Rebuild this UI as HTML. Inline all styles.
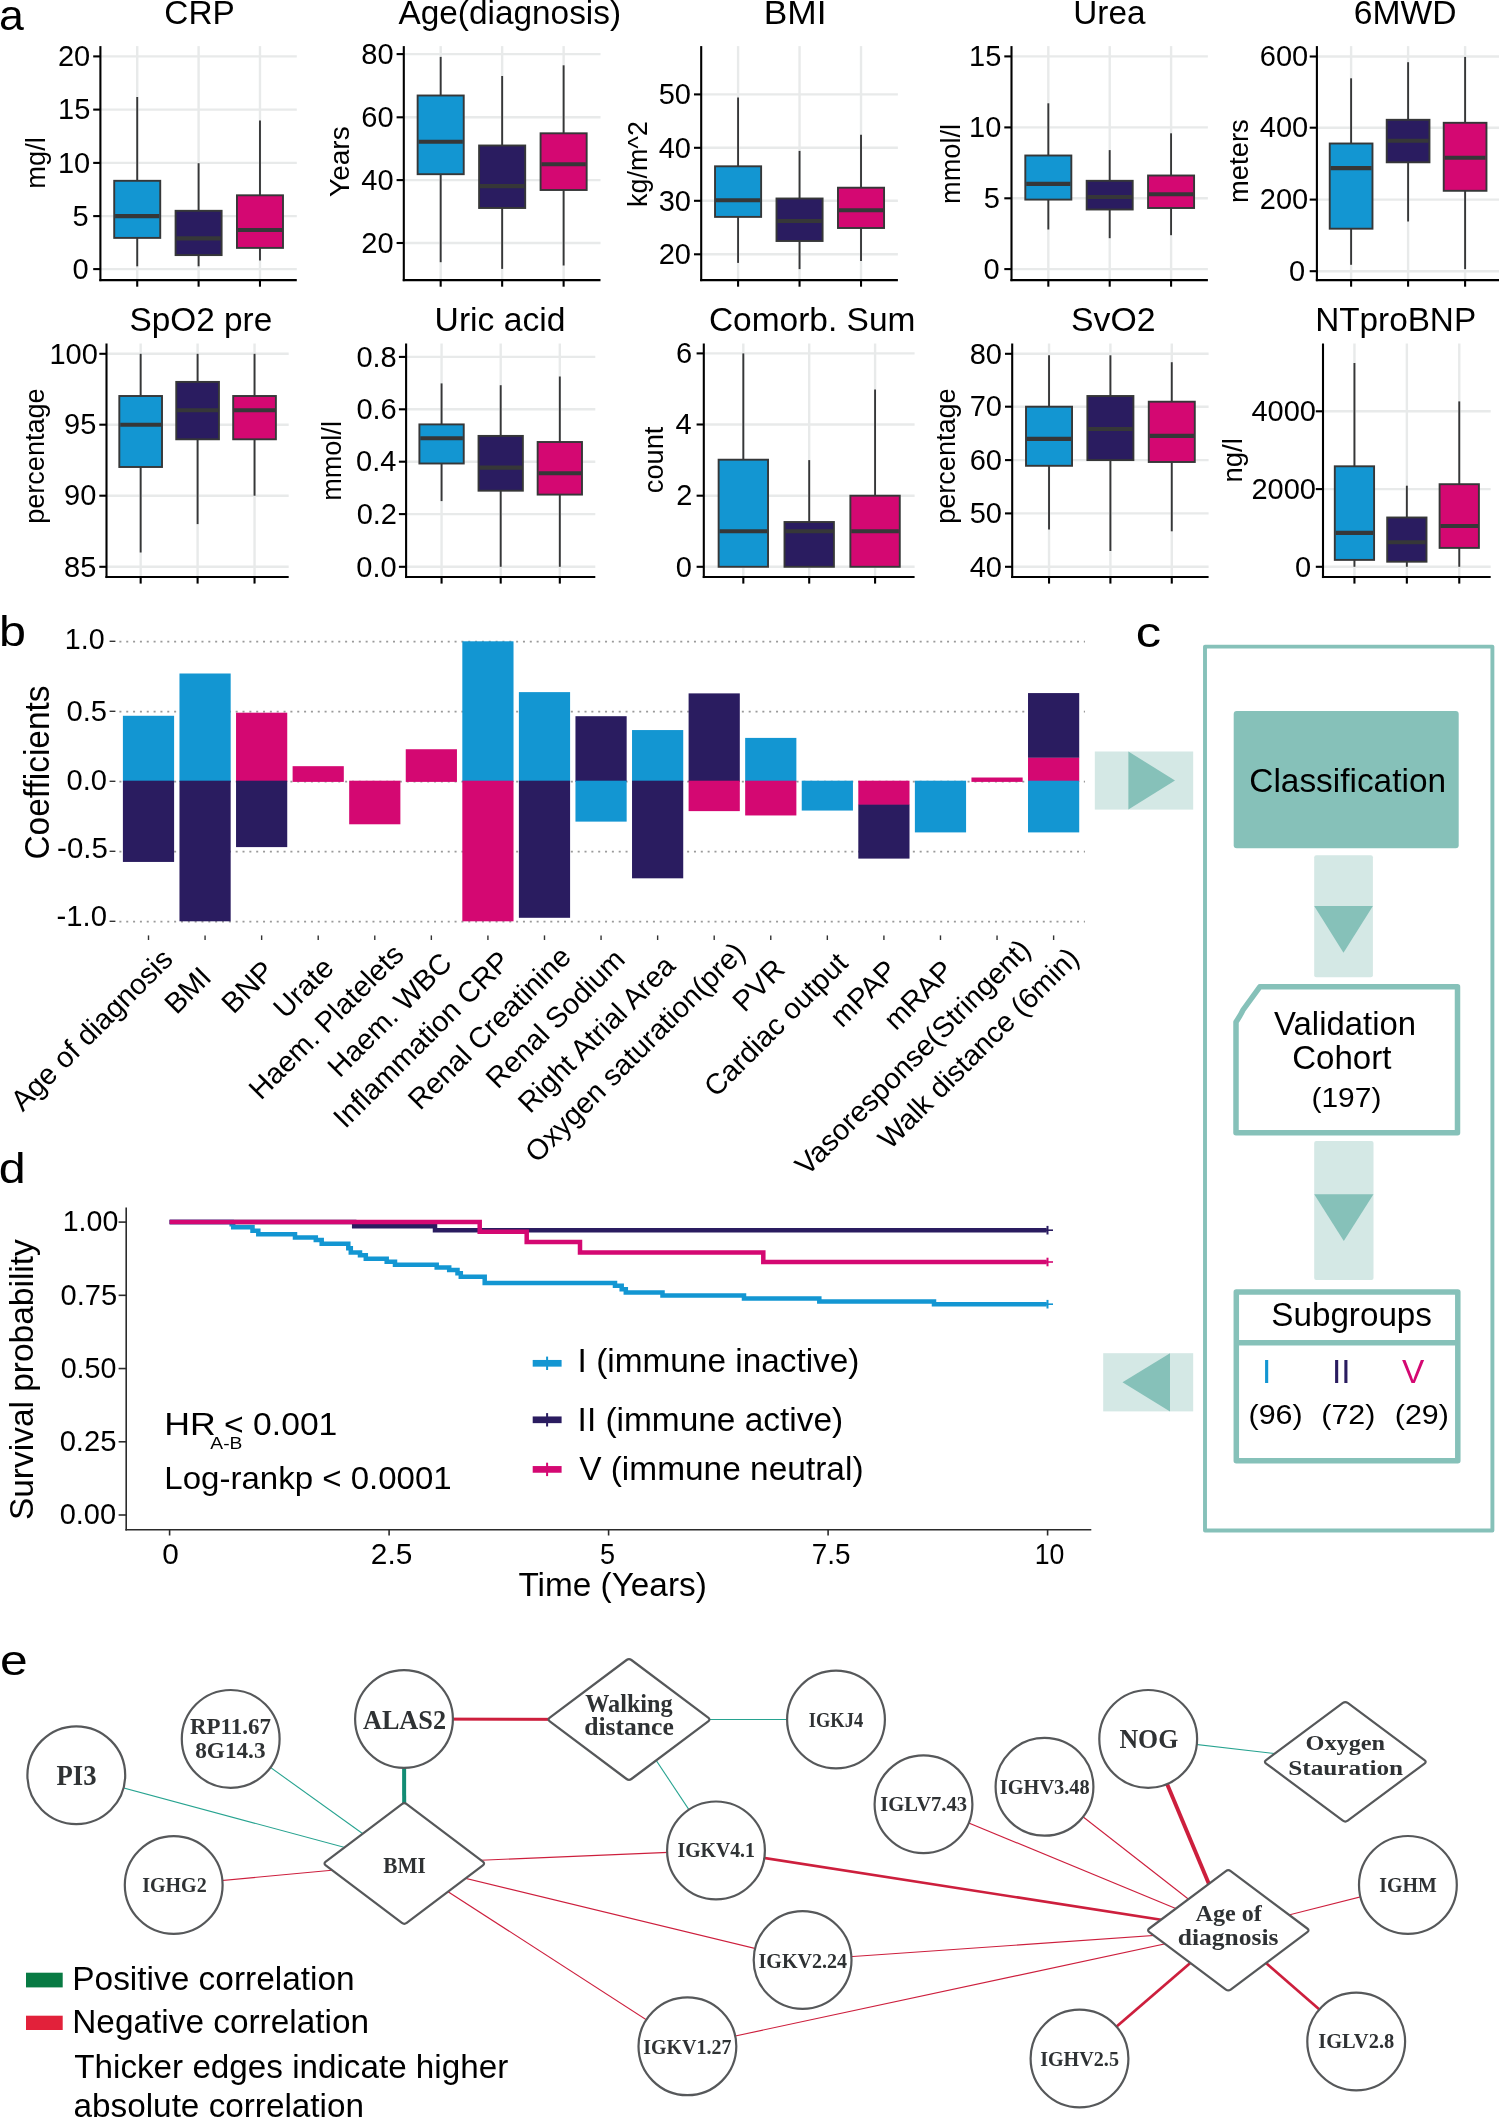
<!DOCTYPE html>
<html><head><meta charset="utf-8"><title>Figure</title>
<style>
html,body{margin:0;padding:0;background:#fff;}
body{width:1499px;height:2119px;overflow:hidden;}
svg{display:block;font-family:'Liberation Sans', sans-serif;will-change:transform;}
</style></head>
<body>
<svg width="1499" height="2119" viewBox="0 0 1499 2119">
<rect x="0" y="0" width="1499" height="2119" fill="#fff"/>
<g id="panel-a">
<line x1="100.4" y1="56.4" x2="296.8" y2="56.4" stroke="#e8eaea" stroke-width="2.4" />
<line x1="100.4" y1="109.6" x2="296.8" y2="109.6" stroke="#e8eaea" stroke-width="2.4" />
<line x1="100.4" y1="162.9" x2="296.8" y2="162.9" stroke="#e8eaea" stroke-width="2.4" />
<line x1="100.4" y1="216.1" x2="296.8" y2="216.1" stroke="#e8eaea" stroke-width="2.4" />
<line x1="100.4" y1="269.1" x2="296.8" y2="269.1" stroke="#e8eaea" stroke-width="2.4" />
<line x1="137.22" y1="46.1" x2="137.22" y2="280.1" stroke="#e8eaea" stroke-width="2.4" />
<line x1="198.6" y1="46.1" x2="198.6" y2="280.1" stroke="#e8eaea" stroke-width="2.4" />
<line x1="259.98" y1="46.1" x2="259.98" y2="280.1" stroke="#e8eaea" stroke-width="2.4" />
<line x1="137.22" y1="97" x2="137.22" y2="180.8" stroke="#363738" stroke-width="1.9" />
<line x1="137.22" y1="237.9" x2="137.22" y2="266.3" stroke="#363738" stroke-width="1.9" />
<rect x="114.21" y="180.8" width="46.03" height="57.1" fill="#1396d2" stroke="#363738" stroke-width="1.9"/>
<line x1="115.11" y1="216.1" x2="159.34" y2="216.1" stroke="#363738" stroke-width="4.1" />
<line x1="198.6" y1="163.2" x2="198.6" y2="210.8" stroke="#363738" stroke-width="1.9" />
<line x1="198.6" y1="255.1" x2="198.6" y2="266.3" stroke="#363738" stroke-width="1.9" />
<rect x="175.58" y="210.8" width="46.03" height="44.3" fill="#2a1c60" stroke="#363738" stroke-width="1.9"/>
<line x1="176.48" y1="238.4" x2="220.72" y2="238.4" stroke="#363738" stroke-width="4.1" />
<line x1="259.98" y1="120.5" x2="259.98" y2="195.3" stroke="#363738" stroke-width="1.9" />
<line x1="259.98" y1="247.9" x2="259.98" y2="260.5" stroke="#363738" stroke-width="1.9" />
<rect x="236.96" y="195.3" width="46.03" height="52.6" fill="#d40872" stroke="#363738" stroke-width="1.9"/>
<line x1="237.86" y1="230" x2="282.09" y2="230" stroke="#363738" stroke-width="4.1" />
<line x1="100.4" y1="46.1" x2="100.4" y2="281.15" stroke="#000" stroke-width="2.1" />
<line x1="99.35" y1="280.1" x2="296.8" y2="280.1" stroke="#000" stroke-width="2.1" />
<line x1="93.2" y1="56.4" x2="100.4" y2="56.4" stroke="#000" stroke-width="2.1" />
<text x="57.93" y="66.1" font-size="29" fill="#000">20</text>
<line x1="93.2" y1="109.6" x2="100.4" y2="109.6" stroke="#000" stroke-width="2.1" />
<text x="58" y="119.3" font-size="29" fill="#000">15</text>
<line x1="93.2" y1="162.9" x2="100.4" y2="162.9" stroke="#000" stroke-width="2.1" />
<text x="57.93" y="172.6" font-size="29" fill="#000">10</text>
<line x1="93.2" y1="216.1" x2="100.4" y2="216.1" stroke="#000" stroke-width="2.1" />
<text x="72.53" y="225.8" font-size="29" fill="#000">5</text>
<line x1="93.2" y1="269.1" x2="100.4" y2="269.1" stroke="#000" stroke-width="2.1" />
<text x="72.46" y="278.8" font-size="29" fill="#000">0</text>
<line x1="137.22" y1="280.1" x2="137.22" y2="286.7" stroke="#000" stroke-width="2.1" />
<line x1="198.6" y1="280.1" x2="198.6" y2="286.7" stroke="#000" stroke-width="2.1" />
<line x1="259.98" y1="280.1" x2="259.98" y2="286.7" stroke="#000" stroke-width="2.1" />
<text x="164.33" y="24" font-size="34" fill="#000" textLength="70.38" lengthAdjust="spacingAndGlyphs" >CRP</text>
<text transform="translate(45.1,188.64) rotate(-90)" font-size="27.5" fill="#000" textLength="51.46" lengthAdjust="spacingAndGlyphs">mg/l</text>
<line x1="403.8" y1="54.1" x2="600.5" y2="54.1" stroke="#e8eaea" stroke-width="2.4" />
<line x1="403.8" y1="117.3" x2="600.5" y2="117.3" stroke="#e8eaea" stroke-width="2.4" />
<line x1="403.8" y1="180.1" x2="600.5" y2="180.1" stroke="#e8eaea" stroke-width="2.4" />
<line x1="403.8" y1="243" x2="600.5" y2="243" stroke="#e8eaea" stroke-width="2.4" />
<line x1="440.68" y1="46.1" x2="440.68" y2="280.1" stroke="#e8eaea" stroke-width="2.4" />
<line x1="502.15" y1="46.1" x2="502.15" y2="280.1" stroke="#e8eaea" stroke-width="2.4" />
<line x1="563.62" y1="46.1" x2="563.62" y2="280.1" stroke="#e8eaea" stroke-width="2.4" />
<line x1="440.68" y1="56.9" x2="440.68" y2="95.5" stroke="#363738" stroke-width="1.9" />
<line x1="440.68" y1="174.2" x2="440.68" y2="262.2" stroke="#363738" stroke-width="1.9" />
<rect x="417.63" y="95.5" width="46.1" height="78.7" fill="#1396d2" stroke="#363738" stroke-width="1.9"/>
<line x1="418.53" y1="141.7" x2="462.83" y2="141.7" stroke="#363738" stroke-width="4.1" />
<line x1="502.15" y1="76" x2="502.15" y2="145.5" stroke="#363738" stroke-width="1.9" />
<line x1="502.15" y1="208" x2="502.15" y2="268.9" stroke="#363738" stroke-width="1.9" />
<rect x="479.1" y="145.5" width="46.1" height="62.5" fill="#2a1c60" stroke="#363738" stroke-width="1.9"/>
<line x1="480" y1="186.1" x2="524.3" y2="186.1" stroke="#363738" stroke-width="4.1" />
<line x1="563.62" y1="65.3" x2="563.62" y2="133.3" stroke="#363738" stroke-width="1.9" />
<line x1="563.62" y1="190" x2="563.62" y2="265.5" stroke="#363738" stroke-width="1.9" />
<rect x="540.57" y="133.3" width="46.1" height="56.7" fill="#d40872" stroke="#363738" stroke-width="1.9"/>
<line x1="541.47" y1="164.3" x2="585.77" y2="164.3" stroke="#363738" stroke-width="4.1" />
<line x1="403.8" y1="46.1" x2="403.8" y2="281.15" stroke="#000" stroke-width="2.1" />
<line x1="402.75" y1="280.1" x2="600.5" y2="280.1" stroke="#000" stroke-width="2.1" />
<line x1="396.6" y1="54.1" x2="403.8" y2="54.1" stroke="#000" stroke-width="2.1" />
<text x="361.33" y="63.8" font-size="29" fill="#000">80</text>
<line x1="396.6" y1="117.3" x2="403.8" y2="117.3" stroke="#000" stroke-width="2.1" />
<text x="361.33" y="127" font-size="29" fill="#000">60</text>
<line x1="396.6" y1="180.1" x2="403.8" y2="180.1" stroke="#000" stroke-width="2.1" />
<text x="361.33" y="189.8" font-size="29" fill="#000">40</text>
<line x1="396.6" y1="243" x2="403.8" y2="243" stroke="#000" stroke-width="2.1" />
<text x="361.33" y="252.7" font-size="29" fill="#000">20</text>
<line x1="440.68" y1="280.1" x2="440.68" y2="286.7" stroke="#000" stroke-width="2.1" />
<line x1="502.15" y1="280.1" x2="502.15" y2="286.7" stroke="#000" stroke-width="2.1" />
<line x1="563.62" y1="280.1" x2="563.62" y2="286.7" stroke="#000" stroke-width="2.1" />
<text x="398.52" y="24" font-size="34" fill="#000" textLength="222.5" lengthAdjust="spacingAndGlyphs" >Age(diagnosis)</text>
<text transform="translate(348.9,196.93) rotate(-90)" font-size="27.5" fill="#000" textLength="70.63" lengthAdjust="spacingAndGlyphs">Years</text>
<line x1="701.2" y1="94.4" x2="897.9" y2="94.4" stroke="#e8eaea" stroke-width="2.4" />
<line x1="701.2" y1="147.8" x2="897.9" y2="147.8" stroke="#e8eaea" stroke-width="2.4" />
<line x1="701.2" y1="200.8" x2="897.9" y2="200.8" stroke="#e8eaea" stroke-width="2.4" />
<line x1="701.2" y1="254.3" x2="897.9" y2="254.3" stroke="#e8eaea" stroke-width="2.4" />
<line x1="738.08" y1="46.1" x2="738.08" y2="280.1" stroke="#e8eaea" stroke-width="2.4" />
<line x1="799.55" y1="46.1" x2="799.55" y2="280.1" stroke="#e8eaea" stroke-width="2.4" />
<line x1="861.02" y1="46.1" x2="861.02" y2="280.1" stroke="#e8eaea" stroke-width="2.4" />
<line x1="738.08" y1="97.5" x2="738.08" y2="166.3" stroke="#363738" stroke-width="1.9" />
<line x1="738.08" y1="216.9" x2="738.08" y2="262.9" stroke="#363738" stroke-width="1.9" />
<rect x="715.03" y="166.3" width="46.1" height="50.6" fill="#1396d2" stroke="#363738" stroke-width="1.9"/>
<line x1="715.93" y1="200.3" x2="760.23" y2="200.3" stroke="#363738" stroke-width="4.1" />
<line x1="799.55" y1="150.9" x2="799.55" y2="198.5" stroke="#363738" stroke-width="1.9" />
<line x1="799.55" y1="241" x2="799.55" y2="269.1" stroke="#363738" stroke-width="1.9" />
<rect x="776.5" y="198.5" width="46.1" height="42.5" fill="#2a1c60" stroke="#363738" stroke-width="1.9"/>
<line x1="777.4" y1="221" x2="821.7" y2="221" stroke="#363738" stroke-width="4.1" />
<line x1="861.02" y1="134.8" x2="861.02" y2="187.7" stroke="#363738" stroke-width="1.9" />
<line x1="861.02" y1="228" x2="861.02" y2="260.9" stroke="#363738" stroke-width="1.9" />
<rect x="837.97" y="187.7" width="46.1" height="40.3" fill="#d40872" stroke="#363738" stroke-width="1.9"/>
<line x1="838.87" y1="210.3" x2="883.17" y2="210.3" stroke="#363738" stroke-width="4.1" />
<line x1="701.2" y1="46.1" x2="701.2" y2="281.15" stroke="#000" stroke-width="2.1" />
<line x1="700.15" y1="280.1" x2="897.9" y2="280.1" stroke="#000" stroke-width="2.1" />
<line x1="694" y1="94.4" x2="701.2" y2="94.4" stroke="#000" stroke-width="2.1" />
<text x="658.73" y="104.1" font-size="29" fill="#000">50</text>
<line x1="694" y1="147.8" x2="701.2" y2="147.8" stroke="#000" stroke-width="2.1" />
<text x="658.73" y="157.5" font-size="29" fill="#000">40</text>
<line x1="694" y1="200.8" x2="701.2" y2="200.8" stroke="#000" stroke-width="2.1" />
<text x="658.73" y="210.5" font-size="29" fill="#000">30</text>
<line x1="694" y1="254.3" x2="701.2" y2="254.3" stroke="#000" stroke-width="2.1" />
<text x="658.73" y="264" font-size="29" fill="#000">20</text>
<line x1="738.08" y1="280.1" x2="738.08" y2="286.7" stroke="#000" stroke-width="2.1" />
<line x1="799.55" y1="280.1" x2="799.55" y2="286.7" stroke="#000" stroke-width="2.1" />
<line x1="861.02" y1="280.1" x2="861.02" y2="286.7" stroke="#000" stroke-width="2.1" />
<text x="763.79" y="24" font-size="34" fill="#000" textLength="62.79" lengthAdjust="spacingAndGlyphs" >BMI</text>
<text transform="translate(646.8,206.91) rotate(-90)" font-size="27.5" fill="#000" textLength="85.76" lengthAdjust="spacingAndGlyphs">kg/m^2</text>
<line x1="1011.5" y1="56.4" x2="1207.9" y2="56.4" stroke="#e8eaea" stroke-width="2.4" />
<line x1="1011.5" y1="127.4" x2="1207.9" y2="127.4" stroke="#e8eaea" stroke-width="2.4" />
<line x1="1011.5" y1="198.3" x2="1207.9" y2="198.3" stroke="#e8eaea" stroke-width="2.4" />
<line x1="1011.5" y1="269.1" x2="1207.9" y2="269.1" stroke="#e8eaea" stroke-width="2.4" />
<line x1="1048.33" y1="46.1" x2="1048.33" y2="280.1" stroke="#e8eaea" stroke-width="2.4" />
<line x1="1109.7" y1="46.1" x2="1109.7" y2="280.1" stroke="#e8eaea" stroke-width="2.4" />
<line x1="1171.08" y1="46.1" x2="1171.08" y2="280.1" stroke="#e8eaea" stroke-width="2.4" />
<line x1="1048.33" y1="103.3" x2="1048.33" y2="155.5" stroke="#363738" stroke-width="1.9" />
<line x1="1048.33" y1="199.6" x2="1048.33" y2="229.5" stroke="#363738" stroke-width="1.9" />
<rect x="1025.31" y="155.5" width="46.03" height="44.1" fill="#1396d2" stroke="#363738" stroke-width="1.9"/>
<line x1="1026.21" y1="183.9" x2="1070.44" y2="183.9" stroke="#363738" stroke-width="4.1" />
<line x1="1109.7" y1="150.1" x2="1109.7" y2="180.8" stroke="#363738" stroke-width="1.9" />
<line x1="1109.7" y1="209.5" x2="1109.7" y2="238.2" stroke="#363738" stroke-width="1.9" />
<rect x="1086.68" y="180.8" width="46.03" height="28.7" fill="#2a1c60" stroke="#363738" stroke-width="1.9"/>
<line x1="1087.58" y1="197" x2="1131.82" y2="197" stroke="#363738" stroke-width="4.1" />
<line x1="1171.08" y1="133.3" x2="1171.08" y2="175.5" stroke="#363738" stroke-width="1.9" />
<line x1="1171.08" y1="208" x2="1171.08" y2="235.2" stroke="#363738" stroke-width="1.9" />
<rect x="1148.06" y="175.5" width="46.03" height="32.5" fill="#d40872" stroke="#363738" stroke-width="1.9"/>
<line x1="1148.96" y1="194.2" x2="1193.19" y2="194.2" stroke="#363738" stroke-width="4.1" />
<line x1="1011.5" y1="46.1" x2="1011.5" y2="281.15" stroke="#000" stroke-width="2.1" />
<line x1="1010.45" y1="280.1" x2="1207.9" y2="280.1" stroke="#000" stroke-width="2.1" />
<line x1="1004.3" y1="56.4" x2="1011.5" y2="56.4" stroke="#000" stroke-width="2.1" />
<text x="969.1" y="66.1" font-size="29" fill="#000">15</text>
<line x1="1004.3" y1="127.4" x2="1011.5" y2="127.4" stroke="#000" stroke-width="2.1" />
<text x="969.03" y="137.1" font-size="29" fill="#000">10</text>
<line x1="1004.3" y1="198.3" x2="1011.5" y2="198.3" stroke="#000" stroke-width="2.1" />
<text x="983.63" y="208" font-size="29" fill="#000">5</text>
<line x1="1004.3" y1="269.1" x2="1011.5" y2="269.1" stroke="#000" stroke-width="2.1" />
<text x="983.56" y="278.8" font-size="29" fill="#000">0</text>
<line x1="1048.33" y1="280.1" x2="1048.33" y2="286.7" stroke="#000" stroke-width="2.1" />
<line x1="1109.7" y1="280.1" x2="1109.7" y2="286.7" stroke="#000" stroke-width="2.1" />
<line x1="1171.08" y1="280.1" x2="1171.08" y2="286.7" stroke="#000" stroke-width="2.1" />
<text x="1073.32" y="24" font-size="34" fill="#000" textLength="72.1" lengthAdjust="spacingAndGlyphs" >Urea</text>
<text transform="translate(959.5,203.94) rotate(-90)" font-size="27.5" fill="#000" textLength="80.05" lengthAdjust="spacingAndGlyphs">mmol/l</text>
<line x1="1316.9" y1="56.5" x2="1499.3" y2="56.5" stroke="#e8eaea" stroke-width="2.4" />
<line x1="1316.9" y1="127.7" x2="1499.3" y2="127.7" stroke="#e8eaea" stroke-width="2.4" />
<line x1="1316.9" y1="199.6" x2="1499.3" y2="199.6" stroke="#e8eaea" stroke-width="2.4" />
<line x1="1316.9" y1="271.2" x2="1499.3" y2="271.2" stroke="#e8eaea" stroke-width="2.4" />
<line x1="1351.1" y1="46.1" x2="1351.1" y2="280.1" stroke="#e8eaea" stroke-width="2.4" />
<line x1="1408.1" y1="46.1" x2="1408.1" y2="280.1" stroke="#e8eaea" stroke-width="2.4" />
<line x1="1465.1" y1="46.1" x2="1465.1" y2="280.1" stroke="#e8eaea" stroke-width="2.4" />
<line x1="1351.1" y1="78.3" x2="1351.1" y2="143.5" stroke="#363738" stroke-width="1.9" />
<line x1="1351.1" y1="228.7" x2="1351.1" y2="264.8" stroke="#363738" stroke-width="1.9" />
<rect x="1329.73" y="143.5" width="42.75" height="85.2" fill="#1396d2" stroke="#363738" stroke-width="1.9"/>
<line x1="1330.63" y1="168.1" x2="1371.58" y2="168.1" stroke="#363738" stroke-width="4.1" />
<line x1="1408.1" y1="62.2" x2="1408.1" y2="119.8" stroke="#363738" stroke-width="1.9" />
<line x1="1408.1" y1="162.3" x2="1408.1" y2="221.5" stroke="#363738" stroke-width="1.9" />
<rect x="1386.72" y="119.8" width="42.75" height="42.5" fill="#2a1c60" stroke="#363738" stroke-width="1.9"/>
<line x1="1387.62" y1="140.8" x2="1428.57" y2="140.8" stroke="#363738" stroke-width="4.1" />
<line x1="1465.1" y1="56.9" x2="1465.1" y2="122.8" stroke="#363738" stroke-width="1.9" />
<line x1="1465.1" y1="190.8" x2="1465.1" y2="269.1" stroke="#363738" stroke-width="1.9" />
<rect x="1443.72" y="122.8" width="42.75" height="68" fill="#d40872" stroke="#363738" stroke-width="1.9"/>
<line x1="1444.62" y1="157.8" x2="1485.57" y2="157.8" stroke="#363738" stroke-width="4.1" />
<line x1="1316.9" y1="46.1" x2="1316.9" y2="281.15" stroke="#000" stroke-width="2.1" />
<line x1="1315.85" y1="280.1" x2="1499.3" y2="280.1" stroke="#000" stroke-width="2.1" />
<line x1="1309.7" y1="56.5" x2="1316.9" y2="56.5" stroke="#000" stroke-width="2.1" />
<text x="1259.82" y="66.2" font-size="29" fill="#000">600</text>
<line x1="1309.7" y1="127.7" x2="1316.9" y2="127.7" stroke="#000" stroke-width="2.1" />
<text x="1259.82" y="137.4" font-size="29" fill="#000">400</text>
<line x1="1309.7" y1="199.6" x2="1316.9" y2="199.6" stroke="#000" stroke-width="2.1" />
<text x="1259.82" y="209.3" font-size="29" fill="#000">200</text>
<line x1="1309.7" y1="271.2" x2="1316.9" y2="271.2" stroke="#000" stroke-width="2.1" />
<text x="1288.96" y="280.9" font-size="29" fill="#000">0</text>
<line x1="1351.1" y1="280.1" x2="1351.1" y2="286.7" stroke="#000" stroke-width="2.1" />
<line x1="1408.1" y1="280.1" x2="1408.1" y2="286.7" stroke="#000" stroke-width="2.1" />
<line x1="1465.1" y1="280.1" x2="1465.1" y2="286.7" stroke="#000" stroke-width="2.1" />
<text x="1353.82" y="24" font-size="34" fill="#000" textLength="102.79" lengthAdjust="spacingAndGlyphs" >6MWD</text>
<text transform="translate(1248,202.95) rotate(-90)" font-size="27.5" fill="#000" textLength="83.64" lengthAdjust="spacingAndGlyphs">meters</text>
<line x1="106.5" y1="353.8" x2="288.7" y2="353.8" stroke="#e8eaea" stroke-width="2.4" />
<line x1="106.5" y1="424.7" x2="288.7" y2="424.7" stroke="#e8eaea" stroke-width="2.4" />
<line x1="106.5" y1="495.7" x2="288.7" y2="495.7" stroke="#e8eaea" stroke-width="2.4" />
<line x1="106.5" y1="566.8" x2="288.7" y2="566.8" stroke="#e8eaea" stroke-width="2.4" />
<line x1="140.66" y1="343.5" x2="140.66" y2="577" stroke="#e8eaea" stroke-width="2.4" />
<line x1="197.6" y1="343.5" x2="197.6" y2="577" stroke="#e8eaea" stroke-width="2.4" />
<line x1="254.54" y1="343.5" x2="254.54" y2="577" stroke="#e8eaea" stroke-width="2.4" />
<line x1="140.66" y1="353.8" x2="140.66" y2="396" stroke="#363738" stroke-width="1.9" />
<line x1="140.66" y1="467" x2="140.66" y2="552.5" stroke="#363738" stroke-width="1.9" />
<rect x="119.31" y="396" width="42.7" height="71" fill="#1396d2" stroke="#363738" stroke-width="1.9"/>
<line x1="120.21" y1="424.7" x2="161.11" y2="424.7" stroke="#363738" stroke-width="4.1" />
<line x1="197.6" y1="353.8" x2="197.6" y2="381.9" stroke="#363738" stroke-width="1.9" />
<line x1="197.6" y1="439.3" x2="197.6" y2="524.1" stroke="#363738" stroke-width="1.9" />
<rect x="176.25" y="381.9" width="42.7" height="57.4" fill="#2a1c60" stroke="#363738" stroke-width="1.9"/>
<line x1="177.15" y1="410.3" x2="218.05" y2="410.3" stroke="#363738" stroke-width="4.1" />
<line x1="254.54" y1="353.8" x2="254.54" y2="396" stroke="#363738" stroke-width="1.9" />
<line x1="254.54" y1="439.3" x2="254.54" y2="495.7" stroke="#363738" stroke-width="1.9" />
<rect x="233.19" y="396" width="42.7" height="43.3" fill="#d40872" stroke="#363738" stroke-width="1.9"/>
<line x1="234.09" y1="410.3" x2="274.99" y2="410.3" stroke="#363738" stroke-width="4.1" />
<line x1="106.5" y1="343.5" x2="106.5" y2="578.05" stroke="#000" stroke-width="2.1" />
<line x1="105.45" y1="577" x2="288.7" y2="577" stroke="#000" stroke-width="2.1" />
<line x1="99.3" y1="353.8" x2="106.5" y2="353.8" stroke="#000" stroke-width="2.1" />
<text x="49.42" y="363.5" font-size="29" fill="#000">100</text>
<line x1="99.3" y1="424.7" x2="106.5" y2="424.7" stroke="#000" stroke-width="2.1" />
<text x="64.1" y="434.4" font-size="29" fill="#000">95</text>
<line x1="99.3" y1="495.7" x2="106.5" y2="495.7" stroke="#000" stroke-width="2.1" />
<text x="64.03" y="505.4" font-size="29" fill="#000">90</text>
<line x1="99.3" y1="566.8" x2="106.5" y2="566.8" stroke="#000" stroke-width="2.1" />
<text x="64.1" y="576.5" font-size="29" fill="#000">85</text>
<line x1="140.66" y1="577" x2="140.66" y2="583.6" stroke="#000" stroke-width="2.1" />
<line x1="197.6" y1="577" x2="197.6" y2="583.6" stroke="#000" stroke-width="2.1" />
<line x1="254.54" y1="577" x2="254.54" y2="583.6" stroke="#000" stroke-width="2.1" />
<text x="129.5" y="330.8" font-size="34" fill="#000" textLength="142.73" lengthAdjust="spacingAndGlyphs" >SpO2 pre</text>
<text transform="translate(43.9,523.86) rotate(-90)" font-size="27.5" fill="#000" textLength="135.55" lengthAdjust="spacingAndGlyphs">percentage</text>
<line x1="406.1" y1="356.9" x2="595.3" y2="356.9" stroke="#e8eaea" stroke-width="2.4" />
<line x1="406.1" y1="409.3" x2="595.3" y2="409.3" stroke="#e8eaea" stroke-width="2.4" />
<line x1="406.1" y1="461.7" x2="595.3" y2="461.7" stroke="#e8eaea" stroke-width="2.4" />
<line x1="406.1" y1="514.1" x2="595.3" y2="514.1" stroke="#e8eaea" stroke-width="2.4" />
<line x1="406.1" y1="566.8" x2="595.3" y2="566.8" stroke="#e8eaea" stroke-width="2.4" />
<line x1="441.57" y1="343.5" x2="441.57" y2="577" stroke="#e8eaea" stroke-width="2.4" />
<line x1="500.7" y1="343.5" x2="500.7" y2="577" stroke="#e8eaea" stroke-width="2.4" />
<line x1="559.82" y1="343.5" x2="559.82" y2="577" stroke="#e8eaea" stroke-width="2.4" />
<line x1="441.57" y1="383.4" x2="441.57" y2="424.4" stroke="#363738" stroke-width="1.9" />
<line x1="441.57" y1="463.5" x2="441.57" y2="501.1" stroke="#363738" stroke-width="1.9" />
<rect x="419.4" y="424.4" width="44.34" height="39.1" fill="#1396d2" stroke="#363738" stroke-width="1.9"/>
<line x1="420.3" y1="438.2" x2="462.85" y2="438.2" stroke="#363738" stroke-width="4.1" />
<line x1="500.7" y1="385.2" x2="500.7" y2="435.9" stroke="#363738" stroke-width="1.9" />
<line x1="500.7" y1="490.7" x2="500.7" y2="566.8" stroke="#363738" stroke-width="1.9" />
<rect x="478.53" y="435.9" width="44.34" height="54.8" fill="#2a1c60" stroke="#363738" stroke-width="1.9"/>
<line x1="479.43" y1="467.6" x2="521.97" y2="467.6" stroke="#363738" stroke-width="4.1" />
<line x1="559.82" y1="376.5" x2="559.82" y2="442" stroke="#363738" stroke-width="1.9" />
<line x1="559.82" y1="494.6" x2="559.82" y2="566.8" stroke="#363738" stroke-width="1.9" />
<rect x="537.65" y="442" width="44.34" height="52.6" fill="#d40872" stroke="#363738" stroke-width="1.9"/>
<line x1="538.55" y1="473.2" x2="581.1" y2="473.2" stroke="#363738" stroke-width="4.1" />
<line x1="406.1" y1="343.5" x2="406.1" y2="578.05" stroke="#000" stroke-width="2.1" />
<line x1="405.05" y1="577" x2="595.3" y2="577" stroke="#000" stroke-width="2.1" />
<line x1="398.9" y1="356.9" x2="406.1" y2="356.9" stroke="#000" stroke-width="2.1" />
<text x="356.43" y="366.6" font-size="29" fill="#000">0.8</text>
<line x1="398.9" y1="409.3" x2="406.1" y2="409.3" stroke="#000" stroke-width="2.1" />
<text x="356.43" y="419" font-size="29" fill="#000">0.6</text>
<line x1="398.9" y1="461.7" x2="406.1" y2="461.7" stroke="#000" stroke-width="2.1" />
<text x="356" y="471.4" font-size="29" fill="#000">0.4</text>
<line x1="398.9" y1="514.1" x2="406.1" y2="514.1" stroke="#000" stroke-width="2.1" />
<text x="356.65" y="523.8" font-size="29" fill="#000">0.2</text>
<line x1="398.9" y1="566.8" x2="406.1" y2="566.8" stroke="#000" stroke-width="2.1" />
<text x="356.29" y="576.5" font-size="29" fill="#000">0.0</text>
<line x1="441.57" y1="577" x2="441.57" y2="583.6" stroke="#000" stroke-width="2.1" />
<line x1="500.7" y1="577" x2="500.7" y2="583.6" stroke="#000" stroke-width="2.1" />
<line x1="559.82" y1="577" x2="559.82" y2="583.6" stroke="#000" stroke-width="2.1" />
<text x="434.59" y="330.8" font-size="34" fill="#000" textLength="130.89" lengthAdjust="spacingAndGlyphs" >Uric acid</text>
<text transform="translate(341.1,500.83) rotate(-90)" font-size="27.5" fill="#000" textLength="79.74" lengthAdjust="spacingAndGlyphs">mmol/l</text>
<line x1="703.8" y1="353.4" x2="914.6" y2="353.4" stroke="#e8eaea" stroke-width="2.4" />
<line x1="703.8" y1="424.5" x2="914.6" y2="424.5" stroke="#e8eaea" stroke-width="2.4" />
<line x1="703.8" y1="495.7" x2="914.6" y2="495.7" stroke="#e8eaea" stroke-width="2.4" />
<line x1="703.8" y1="566.8" x2="914.6" y2="566.8" stroke="#e8eaea" stroke-width="2.4" />
<line x1="743.32" y1="343.5" x2="743.32" y2="577" stroke="#e8eaea" stroke-width="2.4" />
<line x1="809.2" y1="343.5" x2="809.2" y2="577" stroke="#e8eaea" stroke-width="2.4" />
<line x1="875.08" y1="343.5" x2="875.08" y2="577" stroke="#e8eaea" stroke-width="2.4" />
<line x1="743.32" y1="353.4" x2="743.32" y2="459.7" stroke="#363738" stroke-width="1.9" />
<rect x="718.62" y="459.7" width="49.41" height="107.1" fill="#1396d2" stroke="#363738" stroke-width="1.9"/>
<line x1="719.52" y1="531.2" x2="767.13" y2="531.2" stroke="#363738" stroke-width="4.1" />
<line x1="809.2" y1="460.1" x2="809.2" y2="522" stroke="#363738" stroke-width="1.9" />
<rect x="784.5" y="522" width="49.41" height="44.8" fill="#2a1c60" stroke="#363738" stroke-width="1.9"/>
<line x1="785.4" y1="531.2" x2="833" y2="531.2" stroke="#363738" stroke-width="4.1" />
<line x1="875.08" y1="389.5" x2="875.08" y2="495.7" stroke="#363738" stroke-width="1.9" />
<rect x="850.37" y="495.7" width="49.41" height="71.1" fill="#d40872" stroke="#363738" stroke-width="1.9"/>
<line x1="851.27" y1="531.2" x2="898.88" y2="531.2" stroke="#363738" stroke-width="4.1" />
<line x1="703.8" y1="343.5" x2="703.8" y2="578.05" stroke="#000" stroke-width="2.1" />
<line x1="702.75" y1="577" x2="914.6" y2="577" stroke="#000" stroke-width="2.1" />
<line x1="696.6" y1="353.4" x2="703.8" y2="353.4" stroke="#000" stroke-width="2.1" />
<text x="676" y="363.1" font-size="29" fill="#000">6</text>
<line x1="696.6" y1="424.5" x2="703.8" y2="424.5" stroke="#000" stroke-width="2.1" />
<text x="675.57" y="434.2" font-size="29" fill="#000">4</text>
<line x1="696.6" y1="495.7" x2="703.8" y2="495.7" stroke="#000" stroke-width="2.1" />
<text x="676.22" y="505.4" font-size="29" fill="#000">2</text>
<line x1="696.6" y1="566.8" x2="703.8" y2="566.8" stroke="#000" stroke-width="2.1" />
<text x="675.86" y="576.5" font-size="29" fill="#000">0</text>
<line x1="743.32" y1="577" x2="743.32" y2="583.6" stroke="#000" stroke-width="2.1" />
<line x1="809.2" y1="577" x2="809.2" y2="583.6" stroke="#000" stroke-width="2.1" />
<line x1="875.08" y1="577" x2="875.08" y2="583.6" stroke="#000" stroke-width="2.1" />
<text x="708.93" y="330.8" font-size="34" fill="#000" textLength="206.49" lengthAdjust="spacingAndGlyphs" >Comorb. Sum</text>
<text transform="translate(663.1,493.16) rotate(-90)" font-size="27.5" fill="#000" textLength="66.6" lengthAdjust="spacingAndGlyphs">count</text>
<line x1="1012.2" y1="353.8" x2="1208.6" y2="353.8" stroke="#e8eaea" stroke-width="2.4" />
<line x1="1012.2" y1="406.7" x2="1208.6" y2="406.7" stroke="#e8eaea" stroke-width="2.4" />
<line x1="1012.2" y1="460.1" x2="1208.6" y2="460.1" stroke="#e8eaea" stroke-width="2.4" />
<line x1="1012.2" y1="513.4" x2="1208.6" y2="513.4" stroke="#e8eaea" stroke-width="2.4" />
<line x1="1012.2" y1="566.8" x2="1208.6" y2="566.8" stroke="#e8eaea" stroke-width="2.4" />
<line x1="1049.03" y1="343.5" x2="1049.03" y2="577" stroke="#e8eaea" stroke-width="2.4" />
<line x1="1110.4" y1="343.5" x2="1110.4" y2="577" stroke="#e8eaea" stroke-width="2.4" />
<line x1="1171.77" y1="343.5" x2="1171.77" y2="577" stroke="#e8eaea" stroke-width="2.4" />
<line x1="1049.03" y1="355.3" x2="1049.03" y2="406.7" stroke="#363738" stroke-width="1.9" />
<line x1="1049.03" y1="465.8" x2="1049.03" y2="529.5" stroke="#363738" stroke-width="1.9" />
<rect x="1026.01" y="406.7" width="46.03" height="59.1" fill="#1396d2" stroke="#363738" stroke-width="1.9"/>
<line x1="1026.91" y1="438.9" x2="1071.14" y2="438.9" stroke="#363738" stroke-width="4.1" />
<line x1="1110.4" y1="355.3" x2="1110.4" y2="396" stroke="#363738" stroke-width="1.9" />
<line x1="1110.4" y1="460.1" x2="1110.4" y2="551" stroke="#363738" stroke-width="1.9" />
<rect x="1087.38" y="396" width="46.03" height="64.1" fill="#2a1c60" stroke="#363738" stroke-width="1.9"/>
<line x1="1088.28" y1="429" x2="1132.52" y2="429" stroke="#363738" stroke-width="4.1" />
<line x1="1171.77" y1="362.2" x2="1171.77" y2="401.7" stroke="#363738" stroke-width="1.9" />
<line x1="1171.77" y1="462" x2="1171.77" y2="531.3" stroke="#363738" stroke-width="1.9" />
<rect x="1148.76" y="401.7" width="46.03" height="60.3" fill="#d40872" stroke="#363738" stroke-width="1.9"/>
<line x1="1149.66" y1="435.9" x2="1193.89" y2="435.9" stroke="#363738" stroke-width="4.1" />
<line x1="1012.2" y1="343.5" x2="1012.2" y2="578.05" stroke="#000" stroke-width="2.1" />
<line x1="1011.15" y1="577" x2="1208.6" y2="577" stroke="#000" stroke-width="2.1" />
<line x1="1005" y1="353.8" x2="1012.2" y2="353.8" stroke="#000" stroke-width="2.1" />
<text x="969.73" y="363.5" font-size="29" fill="#000">80</text>
<line x1="1005" y1="406.7" x2="1012.2" y2="406.7" stroke="#000" stroke-width="2.1" />
<text x="969.73" y="416.4" font-size="29" fill="#000">70</text>
<line x1="1005" y1="460.1" x2="1012.2" y2="460.1" stroke="#000" stroke-width="2.1" />
<text x="969.73" y="469.8" font-size="29" fill="#000">60</text>
<line x1="1005" y1="513.4" x2="1012.2" y2="513.4" stroke="#000" stroke-width="2.1" />
<text x="969.73" y="523.1" font-size="29" fill="#000">50</text>
<line x1="1005" y1="566.8" x2="1012.2" y2="566.8" stroke="#000" stroke-width="2.1" />
<text x="969.73" y="576.5" font-size="29" fill="#000">40</text>
<line x1="1049.03" y1="577" x2="1049.03" y2="583.6" stroke="#000" stroke-width="2.1" />
<line x1="1110.4" y1="577" x2="1110.4" y2="583.6" stroke="#000" stroke-width="2.1" />
<line x1="1171.77" y1="577" x2="1171.77" y2="583.6" stroke="#000" stroke-width="2.1" />
<text x="1071.08" y="330.8" font-size="34" fill="#000" textLength="84.44" lengthAdjust="spacingAndGlyphs" >SvO2</text>
<text transform="translate(954.6,523.86) rotate(-90)" font-size="27.5" fill="#000" textLength="135.55" lengthAdjust="spacingAndGlyphs">percentage</text>
<line x1="1323" y1="411.3" x2="1490.7" y2="411.3" stroke="#e8eaea" stroke-width="2.4" />
<line x1="1323" y1="489.1" x2="1490.7" y2="489.1" stroke="#e8eaea" stroke-width="2.4" />
<line x1="1323" y1="566.8" x2="1490.7" y2="566.8" stroke="#e8eaea" stroke-width="2.4" />
<line x1="1354.44" y1="343.5" x2="1354.44" y2="577" stroke="#e8eaea" stroke-width="2.4" />
<line x1="1406.85" y1="343.5" x2="1406.85" y2="577" stroke="#e8eaea" stroke-width="2.4" />
<line x1="1459.26" y1="343.5" x2="1459.26" y2="577" stroke="#e8eaea" stroke-width="2.4" />
<line x1="1354.44" y1="363" x2="1354.44" y2="466.3" stroke="#363738" stroke-width="1.9" />
<line x1="1354.44" y1="559.9" x2="1354.44" y2="566.8" stroke="#363738" stroke-width="1.9" />
<rect x="1334.79" y="466.3" width="39.3" height="93.6" fill="#1396d2" stroke="#363738" stroke-width="1.9"/>
<line x1="1335.69" y1="532.9" x2="1373.2" y2="532.9" stroke="#363738" stroke-width="4.1" />
<line x1="1406.85" y1="485.7" x2="1406.85" y2="517.5" stroke="#363738" stroke-width="1.9" />
<line x1="1406.85" y1="561.7" x2="1406.85" y2="566.8" stroke="#363738" stroke-width="1.9" />
<rect x="1387.2" y="517.5" width="39.3" height="44.2" fill="#2a1c60" stroke="#363738" stroke-width="1.9"/>
<line x1="1388.1" y1="542.2" x2="1425.6" y2="542.2" stroke="#363738" stroke-width="4.1" />
<line x1="1459.26" y1="401.4" x2="1459.26" y2="484.2" stroke="#363738" stroke-width="1.9" />
<line x1="1459.26" y1="547.9" x2="1459.26" y2="566.8" stroke="#363738" stroke-width="1.9" />
<rect x="1439.6" y="484.2" width="39.3" height="63.7" fill="#d40872" stroke="#363738" stroke-width="1.9"/>
<line x1="1440.5" y1="526" x2="1478.01" y2="526" stroke="#363738" stroke-width="4.1" />
<line x1="1323" y1="343.5" x2="1323" y2="578.05" stroke="#000" stroke-width="2.1" />
<line x1="1321.95" y1="577" x2="1490.7" y2="577" stroke="#000" stroke-width="2.1" />
<line x1="1315.8" y1="411.3" x2="1323" y2="411.3" stroke="#000" stroke-width="2.1" />
<text x="1251.39" y="421" font-size="29" fill="#000">4000</text>
<line x1="1315.8" y1="489.1" x2="1323" y2="489.1" stroke="#000" stroke-width="2.1" />
<text x="1251.39" y="498.8" font-size="29" fill="#000">2000</text>
<line x1="1315.8" y1="566.8" x2="1323" y2="566.8" stroke="#000" stroke-width="2.1" />
<text x="1295.06" y="576.5" font-size="29" fill="#000">0</text>
<line x1="1354.44" y1="577" x2="1354.44" y2="583.6" stroke="#000" stroke-width="2.1" />
<line x1="1406.85" y1="577" x2="1406.85" y2="583.6" stroke="#000" stroke-width="2.1" />
<line x1="1459.26" y1="577" x2="1459.26" y2="583.6" stroke="#000" stroke-width="2.1" />
<text x="1315.15" y="330.8" font-size="34" fill="#000" textLength="160.98" lengthAdjust="spacingAndGlyphs" >NTproBNP</text>
<text transform="translate(1242.1,482.56) rotate(-90)" font-size="27.5" fill="#000" textLength="44.42" lengthAdjust="spacingAndGlyphs">ng/l</text>
</g>
<text x="-0.9" y="29.5" font-size="43" fill="#000" textLength="24.84" lengthAdjust="spacingAndGlyphs" >a</text>
<text x="-0.95" y="646.3" font-size="42.3" fill="#000" textLength="26.94" lengthAdjust="spacingAndGlyphs" >b</text>
<text x="1135.85" y="647.2" font-size="42.5" fill="#000" textLength="25.35" lengthAdjust="spacingAndGlyphs" >c</text>
<text x="-1.26" y="1183.4" font-size="42.3" fill="#000" textLength="26.94" lengthAdjust="spacingAndGlyphs" >d</text>
<text x="0.08" y="1674.5" font-size="42.5" fill="#000" textLength="27.69" lengthAdjust="spacingAndGlyphs" >e</text>
<g id="panel-b">
<line x1="116" y1="641.7" x2="1085" y2="641.7" stroke="#9a9a9a" stroke-width="1.8" stroke-dasharray="2 4.84" stroke-dashoffset="-3.4"/>
<line x1="116" y1="711.7" x2="1085" y2="711.7" stroke="#9a9a9a" stroke-width="1.8" stroke-dasharray="2 4.84" stroke-dashoffset="-3.4"/>
<line x1="116" y1="781.7" x2="1085" y2="781.7" stroke="#9a9a9a" stroke-width="1.8" stroke-dasharray="2 4.84" stroke-dashoffset="-3.4"/>
<line x1="116" y1="851.7" x2="1085" y2="851.7" stroke="#9a9a9a" stroke-width="1.8" stroke-dasharray="2 4.84" stroke-dashoffset="-3.4"/>
<line x1="116" y1="921.7" x2="1085" y2="921.7" stroke="#9a9a9a" stroke-width="1.8" stroke-dasharray="2 4.84" stroke-dashoffset="-3.4"/>
<rect x="122.9" y="715.78" width="51.2" height="66.12" fill="#1396d2" />
<rect x="122.9" y="780.7" width="51.2" height="81.24" fill="#2a1c60" />
<rect x="179.47" y="673.5" width="51.2" height="108.4" fill="#1396d2" />
<rect x="179.47" y="780.7" width="51.2" height="140.6" fill="#2a1c60" />
<rect x="236.04" y="712.7" width="51.2" height="69.2" fill="#d40872" />
<rect x="236.04" y="780.7" width="51.2" height="66.4" fill="#2a1c60" />
<rect x="292.61" y="766.18" width="51.2" height="15.72" fill="#d40872" />
<rect x="349.18" y="780.7" width="51.2" height="43.58" fill="#d40872" />
<rect x="405.75" y="749.24" width="51.2" height="32.66" fill="#d40872" />
<rect x="462.32" y="641.3" width="51.2" height="140.6" fill="#1396d2" />
<rect x="462.32" y="780.7" width="51.2" height="140.6" fill="#d40872" />
<rect x="518.89" y="692.12" width="51.2" height="89.78" fill="#1396d2" />
<rect x="518.89" y="780.7" width="51.2" height="137.1" fill="#2a1c60" />
<rect x="575.46" y="716.2" width="51.2" height="65.7" fill="#2a1c60" />
<rect x="575.46" y="780.7" width="51.2" height="40.92" fill="#1396d2" />
<rect x="632.03" y="730.06" width="51.2" height="51.84" fill="#1396d2" />
<rect x="632.03" y="780.7" width="51.2" height="97.62" fill="#2a1c60" />
<rect x="688.6" y="693.38" width="51.2" height="88.52" fill="#2a1c60" />
<rect x="688.6" y="780.7" width="51.2" height="30.42" fill="#d40872" />
<rect x="745.17" y="737.9" width="51.2" height="44" fill="#1396d2" />
<rect x="745.17" y="780.7" width="51.2" height="34.76" fill="#d40872" />
<rect x="801.74" y="780.7" width="51.2" height="29.86" fill="#1396d2" />
<rect x="858.31" y="780.7" width="51.2" height="24.26" fill="#d40872" />
<rect x="858.31" y="804.66" width="51.2" height="53.94" fill="#2a1c60" />
<rect x="914.88" y="780.7" width="51.2" height="51.7" fill="#1396d2" />
<rect x="971.45" y="777.52" width="51.2" height="4.38" fill="#d40872" />
<rect x="1028.02" y="757.36" width="51.2" height="24.54" fill="#d40872" />
<rect x="1028.02" y="693.08" width="51.2" height="64.58" fill="#2a1c60" />
<rect x="1028.02" y="780.7" width="51.2" height="51.7" fill="#1396d2" />
<line x1="109.6" y1="641.3" x2="115.4" y2="641.3" stroke="#333" stroke-width="1.4" />
<text x="64.75" y="649.3" font-size="29" fill="#000" textLength="39.83" lengthAdjust="spacingAndGlyphs" >1.0</text>
<line x1="109.6" y1="711.3" x2="115.4" y2="711.3" stroke="#333" stroke-width="1.4" />
<text x="66.53" y="720.9" font-size="29" fill="#000" textLength="40.54" lengthAdjust="spacingAndGlyphs" >0.5</text>
<line x1="109.6" y1="781.3" x2="115.4" y2="781.3" stroke="#333" stroke-width="1.4" />
<text x="66.54" y="790.2" font-size="29" fill="#000" textLength="40.46" lengthAdjust="spacingAndGlyphs" >0.0</text>
<line x1="109.6" y1="851.3" x2="115.4" y2="851.3" stroke="#333" stroke-width="1.4" />
<text x="57.08" y="857.9" font-size="29" fill="#000" textLength="50.72" lengthAdjust="spacingAndGlyphs" >-0.5</text>
<line x1="109.6" y1="921.3" x2="115.4" y2="921.3" stroke="#333" stroke-width="1.4" />
<text x="56.58" y="926.4" font-size="29" fill="#000" textLength="50.44" lengthAdjust="spacingAndGlyphs" >-1.0</text>
<line x1="148.5" y1="935.4" x2="148.5" y2="940" stroke="#333" stroke-width="1.4" />
<line x1="205.07" y1="935.4" x2="205.07" y2="940" stroke="#333" stroke-width="1.4" />
<line x1="261.64" y1="935.4" x2="261.64" y2="940" stroke="#333" stroke-width="1.4" />
<line x1="318.21" y1="935.4" x2="318.21" y2="940" stroke="#333" stroke-width="1.4" />
<line x1="374.78" y1="935.4" x2="374.78" y2="940" stroke="#333" stroke-width="1.4" />
<line x1="431.35" y1="935.4" x2="431.35" y2="940" stroke="#333" stroke-width="1.4" />
<line x1="487.92" y1="935.4" x2="487.92" y2="940" stroke="#333" stroke-width="1.4" />
<line x1="544.49" y1="935.4" x2="544.49" y2="940" stroke="#333" stroke-width="1.4" />
<line x1="601.06" y1="935.4" x2="601.06" y2="940" stroke="#333" stroke-width="1.4" />
<line x1="657.63" y1="935.4" x2="657.63" y2="940" stroke="#333" stroke-width="1.4" />
<line x1="714.2" y1="935.4" x2="714.2" y2="940" stroke="#333" stroke-width="1.4" />
<line x1="770.77" y1="935.4" x2="770.77" y2="940" stroke="#333" stroke-width="1.4" />
<line x1="827.34" y1="935.4" x2="827.34" y2="940" stroke="#333" stroke-width="1.4" />
<line x1="883.91" y1="935.4" x2="883.91" y2="940" stroke="#333" stroke-width="1.4" />
<line x1="940.48" y1="935.4" x2="940.48" y2="940" stroke="#333" stroke-width="1.4" />
<line x1="997.05" y1="935.4" x2="997.05" y2="940" stroke="#333" stroke-width="1.4" />
<line x1="1053.62" y1="935.4" x2="1053.62" y2="940" stroke="#333" stroke-width="1.4" />
<text transform="translate(49,859.57) rotate(-90)" font-size="35" fill="#000" textLength="174.12" lengthAdjust="spacingAndGlyphs">Coefficients</text>
<text transform="translate(22.78,1112.57) rotate(-45)" font-size="29">Age of diagnosis</text>
<text transform="translate(176.43,1015.48) rotate(-45)" font-size="29">BMI</text>
<text transform="translate(233.5,1014.99) rotate(-45)" font-size="29">BNP</text>
<text transform="translate(285.19,1019.86) rotate(-45)" font-size="29">Urate</text>
<text transform="translate(260.72,1100.9) rotate(-45)" font-size="29">Haem. Platelets</text>
<text transform="translate(339.57,1078.63) rotate(-45)" font-size="29">Haem. WBC</text>
<text transform="translate(345.37,1129.4) rotate(-45)" font-size="29">Inflammation CRP</text>
<text transform="translate(419.97,1111.36) rotate(-45)" font-size="29">Renal Creatinine</text>
<text transform="translate(497.82,1090.08) rotate(-45)" font-size="29">Renal Sodium</text>
<text transform="translate(529.93,1114.55) rotate(-45)" font-size="29">Right Atrial Area</text>
<text transform="translate(537,1164.04) rotate(-45)" font-size="29">Oxygen saturation(pre)</text>
<text transform="translate(744.39,1013.22) rotate(-45)" font-size="29">PVR</text>
<text transform="translate(715.97,1098.21) rotate(-45)" font-size="29">Cardiac output</text>
<text transform="translate(842.05,1028.7) rotate(-45)" font-size="29">mPAP</text>
<text transform="translate(895.72,1031.6) rotate(-45)" font-size="29">mRAP</text>
<text transform="translate(807.05,1176.84) rotate(-45)" font-size="29">Vasoresponse(Stringent)</text>
<text transform="translate(889.99,1150.47) rotate(-45)" font-size="29">Walk distance (6min)</text>
</g>
<g id="panel-c">
<rect x="1205" y="646.6" width="287.4" height="883.9" fill="none" stroke="#86c1b9" stroke-width="3.9" stroke-linejoin="round"/>
<rect x="1094.8" y="751.5" width="98.4" height="58.1" fill="#d4e8e5" />
<polygon points="1128.4,751.5 1175,780.5 1128.4,809.6" fill="#86c1b9"/>
<rect x="1233.7" y="711" width="225" height="137.2" rx="3" fill="#86c1b9"/>
<text x="1249.33" y="792.3" font-size="33.3" fill="#000" textLength="196.7" lengthAdjust="spacingAndGlyphs" >Classification</text>
<rect x="1314.2" y="855.2" width="58.7" height="122.1" rx="2" fill="#d4e8e5"/>
<polygon points="1314.2,906 1372.9,906 1343.5,952.7" fill="#86c1b9"/>
<path d="M1259.8,986.8 L1457.5,986.8 L1457.5,1132.7 L1236,1132.7 L1236,1022 C1238.5,1018 1241,1014.5 1243,1010 Z" fill="none" stroke="#86c1b9" stroke-width="5.5" stroke-linejoin="round"/>
<text x="1274.04" y="1034.9" font-size="32.6" fill="#000" textLength="142.04" lengthAdjust="spacingAndGlyphs" >Validation</text>
<text x="1292.15" y="1069" font-size="32.6" fill="#000" textLength="99.25" lengthAdjust="spacingAndGlyphs" >Cohort</text>
<text x="1311.53" y="1106.7" font-size="27.8" fill="#000" textLength="69.85" lengthAdjust="spacingAndGlyphs" >(197)</text>
<rect x="1314.2" y="1141.1" width="59.3" height="138.9" rx="2" fill="#d4e8e5"/>
<polygon points="1314.2,1194.2 1373.5,1194.2 1343.8,1240.9" fill="#86c1b9"/>
<rect x="1236.3" y="1292" width="221.5" height="168.8" fill="none" stroke="#86c1b9" stroke-width="5.5" stroke-linejoin="round"/>
<line x1="1236.3" y1="1342.8" x2="1457.8" y2="1342.8" stroke="#86c1b9" stroke-width="5.4" />
<text x="1271.31" y="1326.1" font-size="33" fill="#000" textLength="160.64" lengthAdjust="spacingAndGlyphs" >Subgroups</text>
<text x="1262.07" y="1382.6" font-size="33.4" fill="#1396d2">I</text>
<text x="1332.03" y="1382.6" font-size="33.4" fill="#2a1c60">II</text>
<text x="1402.05" y="1382.6" font-size="33.4" fill="#d40872">V</text>
<text x="1248.6" y="1424" font-size="27.8" fill="#000" textLength="54.05" lengthAdjust="spacingAndGlyphs" >(96)</text>
<text x="1321.3" y="1424" font-size="27.8" fill="#000" textLength="54.05" lengthAdjust="spacingAndGlyphs" >(72)</text>
<text x="1394.8" y="1424" font-size="27.8" fill="#000" textLength="54.05" lengthAdjust="spacingAndGlyphs" >(29)</text>
<rect x="1103.2" y="1353.2" width="90" height="58.2" fill="#d4e8e5" />
<polygon points="1170,1353.2 1170,1411.4 1122.5,1382.3" fill="#86c1b9"/>
</g>
<g id="panel-d">
<line x1="126.2" y1="1207.4" x2="126.2" y2="1530.5" stroke="#2b2b2b" stroke-width="1.6" />
<line x1="125.4" y1="1529.8" x2="1091.3" y2="1529.8" stroke="#2b2b2b" stroke-width="1.6" />
<line x1="118.6" y1="1222.1" x2="126.2" y2="1222.1" stroke="#2b2b2b" stroke-width="1.6" />
<text x="62.76" y="1231.3" font-size="30" fill="#000" textLength="55.55" lengthAdjust="spacingAndGlyphs" >1.00</text>
<line x1="118.6" y1="1295.32" x2="126.2" y2="1295.32" stroke="#2b2b2b" stroke-width="1.6" />
<text x="60.54" y="1304.52" font-size="30" fill="#000" textLength="56.56" lengthAdjust="spacingAndGlyphs" >0.75</text>
<line x1="118.6" y1="1368.55" x2="126.2" y2="1368.55" stroke="#2b2b2b" stroke-width="1.6" />
<text x="60.65" y="1377.75" font-size="30" fill="#000" textLength="55.76" lengthAdjust="spacingAndGlyphs" >0.50</text>
<line x1="118.6" y1="1441.78" x2="126.2" y2="1441.78" stroke="#2b2b2b" stroke-width="1.6" />
<text x="59.63" y="1450.98" font-size="30" fill="#000" textLength="56.77" lengthAdjust="spacingAndGlyphs" >0.25</text>
<line x1="118.6" y1="1515" x2="126.2" y2="1515" stroke="#2b2b2b" stroke-width="1.6" />
<text x="59.64" y="1524.2" font-size="30" fill="#000" textLength="56.38" lengthAdjust="spacingAndGlyphs" >0.00</text>
<line x1="169.6" y1="1529.8" x2="169.6" y2="1535.5" stroke="#2b2b2b" stroke-width="1.6" />
<text x="162.21" y="1564.2" font-size="30" fill="#000" textLength="16.54" lengthAdjust="spacingAndGlyphs" >0</text>
<line x1="389.1" y1="1529.8" x2="389.1" y2="1535.5" stroke="#2b2b2b" stroke-width="1.6" />
<text x="370.81" y="1564.2" font-size="30" fill="#000" textLength="41.49" lengthAdjust="spacingAndGlyphs" >2.5</text>
<line x1="608.6" y1="1529.8" x2="608.6" y2="1535.5" stroke="#2b2b2b" stroke-width="1.6" />
<text x="600.12" y="1564.2" font-size="30" fill="#000" textLength="14.99" lengthAdjust="spacingAndGlyphs" >5</text>
<line x1="828.1" y1="1529.8" x2="828.1" y2="1535.5" stroke="#2b2b2b" stroke-width="1.6" />
<text x="811.81" y="1564.2" font-size="30" fill="#000" textLength="38.71" lengthAdjust="spacingAndGlyphs" >7.5</text>
<line x1="1047.6" y1="1529.8" x2="1047.6" y2="1535.5" stroke="#2b2b2b" stroke-width="1.6" />
<text x="1034.7" y="1564.2" font-size="30" fill="#000" textLength="29.66" lengthAdjust="spacingAndGlyphs" >10</text>
<text x="518.45" y="1596.2" font-size="32.8" fill="#000" textLength="188.33" lengthAdjust="spacingAndGlyphs" >Time (Years)</text>
<text transform="translate(32.9,1520.11) rotate(-90)" font-size="33.5" fill="#000" textLength="280.9" lengthAdjust="spacingAndGlyphs">Survival probability</text>
<path d="M169.6,1222.1 H231.7 V1224.3 H233.2 V1227.2 H252.5 V1230.8 H258.3 V1234.2 H295 V1237.5 H315.8 V1240 H321.7 V1243.8 H348.3 V1248.3 H350.8 V1252.5 H360 V1255.3 H365.8 V1258.7 H386.7 V1261.7 H395 V1264.7 H436.7 V1267.5 H449.2 V1270 H457.5 V1273.3 H460.8 V1276.7 H484.7 V1283 H615 V1285.8 H621.7 V1289.2 H625.8 V1292.5 H662.5 V1295.4 H744 V1298.6 H819.3 V1301.5 H934 V1304.2 H1046.7" fill="none" stroke="#1396d2" stroke-width="4.5" stroke-linejoin="miter"/>
<line x1="1047.5" y1="1299.9" x2="1047.5" y2="1308.5" stroke="#1396d2" stroke-width="2" />
<line x1="1044" y1="1304.2" x2="1053" y2="1304.2" stroke="#1396d2" stroke-width="1.6" />
<path d="M169.6,1222.1 H354.2 V1226.2 H435 V1230.2 H1046.7" fill="none" stroke="#2a1c60" stroke-width="4.5" stroke-linejoin="miter"/>
<line x1="1047.5" y1="1225.9" x2="1047.5" y2="1234.5" stroke="#2a1c60" stroke-width="2" />
<line x1="1044" y1="1230.2" x2="1053" y2="1230.2" stroke="#2a1c60" stroke-width="1.6" />
<path d="M169.6,1222.1 H479.7 V1231.7 H526.7 V1242 H580 V1252.4 H763.3 V1262 H1046.7" fill="none" stroke="#d40872" stroke-width="4.5" stroke-linejoin="miter"/>
<line x1="1047.5" y1="1257.7" x2="1047.5" y2="1266.3" stroke="#d40872" stroke-width="2" />
<line x1="1044" y1="1262" x2="1053" y2="1262" stroke="#d40872" stroke-width="1.6" />
<line x1="532.7" y1="1363.3" x2="561.6" y2="1363.3" stroke="#1396d2" stroke-width="6.7" />
<line x1="547.1" y1="1356.6" x2="547.1" y2="1370" stroke="#1396d2" stroke-width="2" />
<text x="577.61" y="1372.4" font-size="33.8" fill="#000" textLength="281.87" lengthAdjust="spacingAndGlyphs" >I (immune inactive)</text>
<line x1="532.7" y1="1419.8" x2="561.6" y2="1419.8" stroke="#2a1c60" stroke-width="6.7" />
<line x1="547.1" y1="1413.1" x2="547.1" y2="1426.5" stroke="#2a1c60" stroke-width="2" />
<text x="577.61" y="1431.4" font-size="33.8" fill="#000" textLength="265.55" lengthAdjust="spacingAndGlyphs" >II (immune active)</text>
<line x1="532.7" y1="1469.4" x2="561.6" y2="1469.4" stroke="#d40872" stroke-width="6.7" />
<line x1="547.1" y1="1462.7" x2="547.1" y2="1476.1" stroke="#d40872" stroke-width="2" />
<text x="579.13" y="1480.1" font-size="33.8" fill="#000" textLength="284.4" lengthAdjust="spacingAndGlyphs" >V (immune neutral)</text>
<text x="164.16" y="1434.6" font-size="31.7" fill="#000" textLength="51.51" lengthAdjust="spacingAndGlyphs" >HR</text>
<text x="210.35" y="1448.9" font-size="15.8" fill="#000" textLength="32.05" lengthAdjust="spacingAndGlyphs" >A-B</text>
<text x="224.12" y="1434.6" font-size="31.7" fill="#000" textLength="113.24" lengthAdjust="spacingAndGlyphs" >&lt; 0.001</text>
<text x="164.38" y="1489.2" font-size="31.7" fill="#000" textLength="287.24" lengthAdjust="spacingAndGlyphs" >Log-rankp &lt; 0.0001</text>
</g>
<g id="panel-e">
<line x1="76.3" y1="1775.2" x2="404.3" y2="1863.5" stroke="#27a390" stroke-width="1.1" />
<line x1="230.7" y1="1738.9" x2="404.3" y2="1863.5" stroke="#27a390" stroke-width="1.1" />
<line x1="404" y1="1719" x2="404.3" y2="1863.5" stroke="#138c74" stroke-width="4" />
<line x1="404" y1="1719" x2="629" y2="1719.5" stroke="#cd1f3d" stroke-width="2.8" />
<line x1="173.7" y1="1885" x2="404.3" y2="1863.5" stroke="#cd1f3d" stroke-width="1.1" />
<line x1="404.3" y1="1863.5" x2="716" y2="1850.4" stroke="#cd1f3d" stroke-width="1.1" />
<line x1="404.3" y1="1863.5" x2="802.6" y2="1960" stroke="#cd1f3d" stroke-width="1.1" />
<line x1="404.3" y1="1863.5" x2="687.4" y2="2046.3" stroke="#cd1f3d" stroke-width="1.1" />
<line x1="629" y1="1719.5" x2="836" y2="1719.5" stroke="#27a390" stroke-width="1.1" />
<line x1="629" y1="1719.5" x2="716" y2="1850.4" stroke="#27a390" stroke-width="1.1" />
<line x1="1148.2" y1="1738.9" x2="1345.3" y2="1761.8" stroke="#27a390" stroke-width="1.1" />
<line x1="1148.2" y1="1738.9" x2="1228.3" y2="1930.3" stroke="#cd1f3d" stroke-width="3.9" />
<line x1="716" y1="1850.4" x2="1228.3" y2="1930.3" stroke="#cd1f3d" stroke-width="2.6" />
<line x1="923.5" y1="1804.2" x2="1228.3" y2="1930.3" stroke="#cd1f3d" stroke-width="1.1" />
<line x1="1044.5" y1="1786.8" x2="1228.3" y2="1930.3" stroke="#cd1f3d" stroke-width="1.1" />
<line x1="1407.9" y1="1884.9" x2="1228.3" y2="1930.3" stroke="#cd1f3d" stroke-width="1.1" />
<line x1="802.6" y1="1960" x2="1228.3" y2="1930.3" stroke="#cd1f3d" stroke-width="1.1" />
<line x1="687.4" y1="2046.3" x2="1228.3" y2="1930.3" stroke="#cd1f3d" stroke-width="1.1" />
<line x1="1079.5" y1="2058.5" x2="1228.3" y2="1930.3" stroke="#cd1f3d" stroke-width="2.7" />
<line x1="1356.2" y1="2041.5" x2="1228.3" y2="1930.3" stroke="#cd1f3d" stroke-width="2.7" />
<circle cx="76.3" cy="1775.2" r="48.9" fill="#fff" stroke="#56585a" stroke-width="2.2"/>
<circle cx="230.7" cy="1738.9" r="48.9" fill="#fff" stroke="#56585a" stroke-width="2.2"/>
<circle cx="404" cy="1719" r="48.9" fill="#fff" stroke="#56585a" stroke-width="2.2"/>
<circle cx="173.7" cy="1885" r="48.9" fill="#fff" stroke="#56585a" stroke-width="2.2"/>
<path d="M325.74,1865.31 Q323.35,1863.5 325.74,1861.69 L401.91,1804.06 Q404.3,1802.25 406.69,1804.06 L482.86,1861.69 Q485.25,1863.5 482.86,1865.31 L406.69,1922.94 Q404.3,1924.75 401.91,1922.94 Z" fill="#fff" stroke="#56585a" stroke-width="2.2"/>
<path d="M549.8,1721.3 Q547.4,1719.5 549.8,1717.7 L626.6,1660 Q629,1658.2 631.4,1660 L708.2,1717.7 Q710.6,1719.5 708.2,1721.3 L631.4,1779 Q629,1780.8 626.6,1779 Z" fill="#fff" stroke="#56585a" stroke-width="2.2"/>
<circle cx="836" cy="1719.5" r="48.9" fill="#fff" stroke="#56585a" stroke-width="2.2"/>
<circle cx="716" cy="1850.4" r="48.9" fill="#fff" stroke="#56585a" stroke-width="2.2"/>
<circle cx="687.4" cy="2046.3" r="48.9" fill="#fff" stroke="#56585a" stroke-width="2.2"/>
<circle cx="802.6" cy="1960" r="48.9" fill="#fff" stroke="#56585a" stroke-width="2.2"/>
<circle cx="923.5" cy="1804.2" r="48.9" fill="#fff" stroke="#56585a" stroke-width="2.2"/>
<circle cx="1044.5" cy="1786.8" r="48.9" fill="#fff" stroke="#56585a" stroke-width="2.2"/>
<circle cx="1148.2" cy="1738.9" r="48.9" fill="#fff" stroke="#56585a" stroke-width="2.2"/>
<path d="M1266.11,1763.59 Q1263.7,1761.8 1266.11,1760.01 L1342.89,1702.99 Q1345.3,1701.2 1347.71,1702.99 L1424.49,1760.01 Q1426.9,1761.8 1424.49,1763.59 L1347.71,1820.61 Q1345.3,1822.4 1342.89,1820.61 Z" fill="#fff" stroke="#56585a" stroke-width="2.2"/>
<circle cx="1407.9" cy="1884.9" r="48.9" fill="#fff" stroke="#56585a" stroke-width="2.2"/>
<path d="M1149.3,1932.1 Q1146.9,1930.3 1149.3,1928.5 L1225.9,1871.05 Q1228.3,1869.25 1230.7,1871.05 L1307.3,1928.5 Q1309.7,1930.3 1307.3,1932.1 L1230.7,1989.55 Q1228.3,1991.35 1225.9,1989.55 Z" fill="#fff" stroke="#56585a" stroke-width="2.2"/>
<circle cx="1079.5" cy="2058.5" r="48.9" fill="#fff" stroke="#56585a" stroke-width="2.2"/>
<circle cx="1356.2" cy="2041.5" r="48.9" fill="#fff" stroke="#56585a" stroke-width="2.2"/>
<text x="56.53" y="1785" font-size="28.5" font-family="'Liberation Serif', serif" font-weight="bold" fill="#2f3234" textLength="40" lengthAdjust="spacingAndGlyphs" >PI3</text>
<text x="189.9" y="1733.8" font-size="22.9" font-family="'Liberation Serif', serif" font-weight="bold" fill="#2f3234" textLength="80.98" lengthAdjust="spacingAndGlyphs" >RP11.67</text>
<text x="195.25" y="1758.1" font-size="22.9" font-family="'Liberation Serif', serif" font-weight="bold" fill="#2f3234" textLength="70.27" lengthAdjust="spacingAndGlyphs" >8G14.3</text>
<text x="362.94" y="1728.9" font-size="27.2" font-family="'Liberation Serif', serif" font-weight="bold" fill="#2f3234" textLength="83.08" lengthAdjust="spacingAndGlyphs" >ALAS2</text>
<text x="142.15" y="1891.9" font-size="21.2" font-family="'Liberation Serif', serif" font-weight="bold" fill="#2f3234" textLength="64.51" lengthAdjust="spacingAndGlyphs" >IGHG2</text>
<text x="383.23" y="1873.1" font-size="22.9" font-family="'Liberation Serif', serif" font-weight="bold" fill="#2f3234" textLength="42.52" lengthAdjust="spacingAndGlyphs" >BMI</text>
<text x="585.24" y="1712.1" font-size="25.8" font-family="'Liberation Serif', serif" font-weight="bold" fill="#2f3234" textLength="87.41" lengthAdjust="spacingAndGlyphs" >Walking</text>
<text x="584.18" y="1735.3" font-size="25.8" font-family="'Liberation Serif', serif" font-weight="bold" fill="#2f3234" textLength="89.67" lengthAdjust="spacingAndGlyphs" >distance</text>
<text x="808.8" y="1726.7" font-size="20.8" font-family="'Liberation Serif', serif" font-weight="bold" fill="#2f3234" textLength="54.32" lengthAdjust="spacingAndGlyphs" >IGKJ4</text>
<text x="677.46" y="1857.2" font-size="21.2" font-family="'Liberation Serif', serif" font-weight="bold" fill="#2f3234" textLength="77.47" lengthAdjust="spacingAndGlyphs" >IGKV4.1</text>
<text x="880.33" y="1811.3" font-size="20.6" font-family="'Liberation Serif', serif" font-weight="bold" fill="#2f3234" textLength="86.78" lengthAdjust="spacingAndGlyphs" >IGLV7.43</text>
<text x="999.84" y="1794.1" font-size="22" font-family="'Liberation Serif', serif" font-weight="bold" fill="#2f3234" textLength="89.91" lengthAdjust="spacingAndGlyphs" >IGHV3.48</text>
<text x="1119.48" y="1748.4" font-size="27.5" font-family="'Liberation Serif', serif" font-weight="bold" fill="#2f3234" textLength="58.84" lengthAdjust="spacingAndGlyphs" >NOG</text>
<text x="1305.55" y="1749.6" font-size="21.9" font-family="'Liberation Serif', serif" font-weight="bold" fill="#2f3234" textLength="79.57" lengthAdjust="spacingAndGlyphs" >Oxygen</text>
<text x="1288.28" y="1774.6" font-size="21.9" font-family="'Liberation Serif', serif" font-weight="bold" fill="#2f3234" textLength="114.87" lengthAdjust="spacingAndGlyphs" >Stauration</text>
<text x="1379.35" y="1891.9" font-size="21" font-family="'Liberation Serif', serif" font-weight="bold" fill="#2f3234" textLength="57.42" lengthAdjust="spacingAndGlyphs" >IGHM</text>
<text x="1195.56" y="1921.2" font-size="22.1" font-family="'Liberation Serif', serif" font-weight="bold" fill="#2f3234" textLength="66.24" lengthAdjust="spacingAndGlyphs" >Age of</text>
<text x="1177.78" y="1945.2" font-size="22.1" font-family="'Liberation Serif', serif" font-weight="bold" fill="#2f3234" textLength="100.73" lengthAdjust="spacingAndGlyphs" >diagnosis</text>
<text x="758.55" y="1967.6" font-size="21" font-family="'Liberation Serif', serif" font-weight="bold" fill="#2f3234" textLength="88.49" lengthAdjust="spacingAndGlyphs" >IGKV2.24</text>
<text x="643.15" y="2053.5" font-size="21" font-family="'Liberation Serif', serif" font-weight="bold" fill="#2f3234" textLength="88.34" lengthAdjust="spacingAndGlyphs" >IGKV1.27</text>
<text x="1040.15" y="2065.5" font-size="21.5" font-family="'Liberation Serif', serif" font-weight="bold" fill="#2f3234" textLength="78.8" lengthAdjust="spacingAndGlyphs" >IGHV2.5</text>
<text x="1318.23" y="2048.2" font-size="21.6" font-family="'Liberation Serif', serif" font-weight="bold" fill="#2f3234" textLength="76.02" lengthAdjust="spacingAndGlyphs" >IGLV2.8</text>
<rect x="26" y="1972.7" width="36.7" height="14.7" fill="#087a43" />
<rect x="26" y="2015.7" width="36.7" height="14.3" fill="#e2213a" />
<text x="72.24" y="1990" font-size="33" fill="#000" textLength="282.48" lengthAdjust="spacingAndGlyphs" >Positive correlation</text>
<text x="72.25" y="2032.7" font-size="33" fill="#000" textLength="296.78" lengthAdjust="spacingAndGlyphs" >Negative correlation</text>
<text x="74.25" y="2078.4" font-size="33" fill="#000" textLength="433.98" lengthAdjust="spacingAndGlyphs" >Thicker edges indicate higher</text>
<text x="73.59" y="2116.8" font-size="33" fill="#000" textLength="290.41" lengthAdjust="spacingAndGlyphs" >absolute correlation</text>
</g>
</svg>
</body></html>
